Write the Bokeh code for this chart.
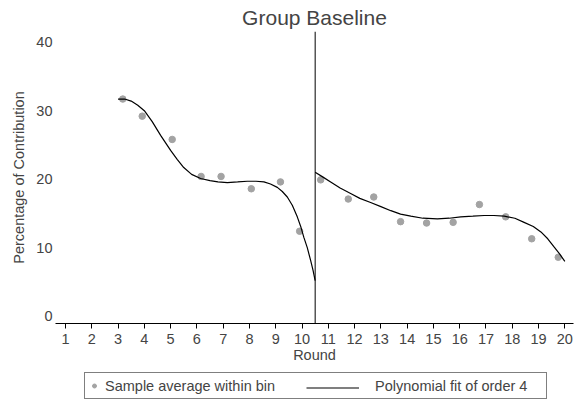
from bokeh.plotting import figure
from bokeh.models import Span, Legend, LegendItem, FixedTicker, Range1d
from bokeh.layouts import column
from bokeh.embed import file_html
from bokeh.resources import INLINE

# ---- data ----
bin_x = [3.18, 3.92, 5.06, 6.16, 6.92, 8.07, 9.18, 9.91,
         10.71, 11.76, 12.73, 13.75, 14.74, 15.75, 16.75, 17.75, 18.74, 19.75]
bin_y = [31.7, 29.2, 25.8, 20.4, 20.4, 18.6, 19.6, 12.4,
         19.9, 17.1, 17.4, 13.8, 13.6, 13.7, 16.3, 14.5, 11.3, 8.6]

fit_left_x = [3.0, 3.25, 3.5, 3.75, 4.0, 4.3, 4.62, 5.0, 5.25, 5.5, 5.8, 6.14,
              6.5, 6.8, 7.16, 7.55, 7.92, 8.25, 8.55, 8.8, 9.06, 9.25, 9.44,
              9.63, 9.82, 9.95, 10.07, 10.2, 10.33, 10.42, 10.5]
fit_left_y = [31.7, 31.7, 31.4, 30.8, 30.0, 28.4, 26.4, 24.2, 22.9, 21.7, 20.7, 20.1,
              19.8, 19.6, 19.5, 19.6, 19.7, 19.7, 19.6, 19.3, 18.8, 18.2, 17.4,
              16.2, 14.5, 13.1, 11.5, 10.0, 8.1, 6.7, 5.2]

fit_right_x = [10.5, 10.8, 11.09, 11.45, 11.85, 12.2, 12.61, 13.0, 13.38, 13.75,
               14.14, 14.6, 15.15, 15.6, 16.04, 16.5, 16.93, 17.3, 17.69, 18.1,
               18.45, 18.8, 19.09, 19.35, 19.59, 19.8, 20.0]
fit_right_y = [21.0, 20.3, 19.6, 18.7, 17.9, 17.2, 16.6, 16.0, 15.4, 14.9,
               14.6, 14.3, 14.2, 14.3, 14.5, 14.6, 14.7, 14.7, 14.6, 14.3,
               13.7, 13.1, 12.3, 11.3, 10.1, 9.1, 8.0]

cutoff = 10.5
x_ticks = list(range(1, 21))
y_ticks = [0, 10, 20, 30, 40]

FONT = "Liberation Sans"
DOT = "#a3a3a3"

p = figure(width=584, height=367, output_backend="svg", toolbar_location=None,
           x_range=Range1d(0.62, 20.33), y_range=Range1d(-1.07, 41.56),
           min_border_left=55, min_border_right=11, min_border_top=31,
           min_border_bottom=44)

p.title.text = "Group Baseline"
p.title.text_font = FONT
p.title.text_font_size = "21px"
p.title.text_font_style = "normal"
p.title.align = "center"
p.title.standoff = 5
p.title.offset = 0

p.outline_line_color = None
p.xgrid.visible = False
p.ygrid.visible = False
p.background_fill_color = "white"
p.border_fill_color = "white"

xa = p.xaxis[0]
xa.ticker = FixedTicker(ticks=x_ticks)
xa.axis_label = "Round"
xa.axis_line_color = "black"
xa.major_tick_line_color = "black"
xa.major_tick_out = 5
xa.major_tick_in = 0
xa.minor_tick_line_color = None
xa.major_label_standoff = 5
xa.axis_label_standoff = 0
xa.major_label_text_font = FONT
xa.major_label_text_font_size = "14.5px"
xa.axis_label_text_font = FONT
xa.axis_label_text_font_size = "14.5px"
xa.axis_label_text_font_style = "normal"

ya = p.yaxis[0]
ya.ticker = FixedTicker(ticks=y_ticks)
ya.axis_label = "Percentage of Contribution"
ya.axis_line_color = None
ya.major_tick_line_color = None
ya.minor_tick_line_color = None
ya.major_tick_out = 0
ya.major_tick_in = 0
ya.major_label_standoff = 3
ya.axis_label_standoff = 6
ya.major_label_text_font = FONT
ya.major_label_text_font_size = "14.5px"
ya.axis_label_text_font = FONT
ya.axis_label_text_font_size = "14.5px"
ya.axis_label_text_font_style = "normal"

p.scatter(bin_x, bin_y, size=6.5, color=DOT, line_color=DOT)
p.line(fit_left_x, fit_left_y, line_color="black", line_width=1.2)
p.line(fit_right_x, fit_right_y, line_color="black", line_width=1.2)
p.add_layout(Span(location=cutoff, dimension="height", line_color="black", line_width=1))

# ---- legend strip below the chart (its frame aligns with the chart's frame) ----
lg = figure(width=584, height=35, output_backend="svg", toolbar_location=None,
            x_range=Range1d(0, 1), y_range=Range1d(0, 1),
            x_axis_location=None, y_axis_location=None,
            min_border_left=55, min_border_right=11,
            min_border_top=0, min_border_bottom=0)
lg.outline_line_color = None
lg.grid.visible = False
lg.border_fill_color = "white"

# legend proxies: real data points, which fall outside this strip's (0, 1) ranges
r_dot = lg.scatter(bin_x[:1], bin_y[:1], size=6.5, color=DOT, line_color=DOT)
r_line = lg.line(fit_left_x[:2], fit_left_y[:2], line_color="black", line_width=1.2)
r_dummy = lg.line(fit_left_x[:2], fit_left_y[:2], line_alpha=0)

legA = Legend(items=[LegendItem(label="Sample average within bin", renderers=[r_dot]),
                     LegendItem(label="Polynomial fit of order 4", renderers=[r_dummy])],
              orientation="horizontal", location=(29, 3),
              padding=4, spacing=84, glyph_width=10, glyph_height=17,
              label_standoff=6, label_width=167, label_height=17, margin=0,
              border_line_color="black", border_line_width=1,
              background_fill_color="white", background_fill_alpha=1,
              label_text_font=FONT, label_text_font_size="14.5px")
legB = Legend(items=[LegendItem(label=" ", renderers=[r_line])],
              orientation="horizontal", location=(251, 6),
              padding=4, spacing=0, glyph_width=53, glyph_height=17,
              label_standoff=0, label_width=1, label_height=17, margin=0,
              border_line_color=None, background_fill_alpha=0,
              label_text_font=FONT, label_text_font_size="14.5px")
lg.add_layout(legA)
lg.add_layout(legB)

layout = column(p, lg, spacing=0)
open("out.html", "w").write(file_html(layout, INLINE))
